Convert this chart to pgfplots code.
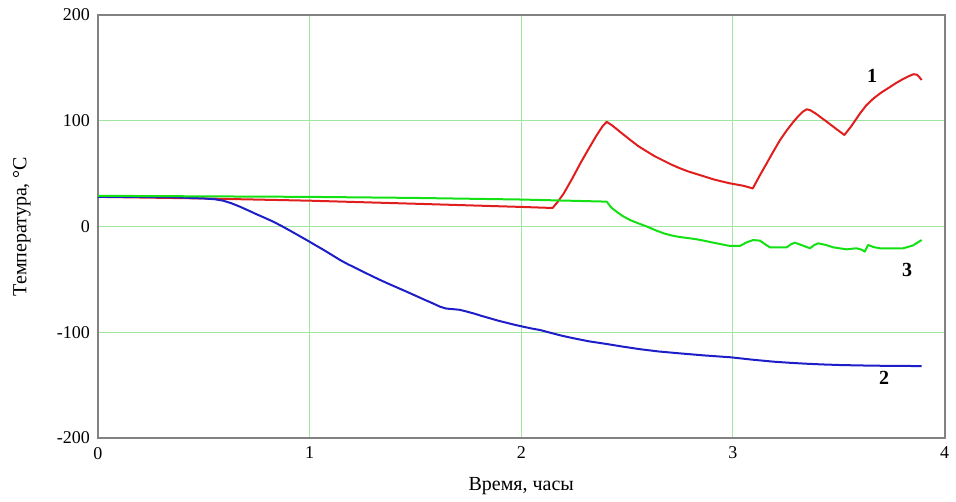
\documentclass[border=0pt]{standalone}
\usepackage{fontspec}
\setmainfont{Liberation Serif}
\usepackage{pgfplots}
\pgfplotsset{compat=1.18}
\definecolor{gridgreen}{RGB}{160,230,160}
\definecolor{axgray}{RGB}{130,130,130}
\definecolor{cred}{RGB}{225,30,30}
\definecolor{cgreen}{RGB}{20,225,20}
\definecolor{cblue}{RGB}{30,30,200}
\begin{document}
\begin{tikzpicture}
\begin{axis}[
  scale only axis,
  width=423.25pt, height=211.5pt,
  xmin=0, xmax=4, ymin=-200, ymax=200,
  xtick={0,1,2,3,4}, ytick={-200,-100,0,100,200},
  grid=major,
  major grid style={gridgreen, line width=0.6pt},
  axis line style={axgray, line width=1pt},
  major tick length=0pt,
  tick label style={font=\fontsize{9}{10}\selectfont},
  /pgf/number format/assume math mode=true,
  xticklabel style={yshift=-1pt},
  yticklabel style={xshift=-0.5pt},
  clip=false,
  every axis plot/.append style={line width=1pt, line join=round},
]
\path (rel axis cs:0,0) ++(-49pt,-30.5pt) rectangle ++(478pt,249.5pt);
\node[rotate=90, font=\fontsize{10}{12}\selectfont] at ([xshift=-38pt]rel axis cs:0,0.5) {Температура, °C};
\node[font=\fontsize{10}{12}\selectfont] at ([yshift=-24pt]rel axis cs:0.5,0) {Время, часы};
\addplot[cred] coordinates {
(0,28) (0.5,26.5) (1.0,24.4) (1.5,21.5) (2.0,18.5) (2.148,17.5)
(2.175,24) (2.2,31) (2.24,45) (2.28,60) (2.32,74) (2.357,86.5) (2.385,95) (2.404,99)
(2.43,95.5) (2.47,89) (2.514,82)
(2.553,76) (2.593,71) (2.63,66.5) (2.67,62.5) (2.71,58.5) (2.75,55) (2.79,52) (2.83,49.5) (2.87,47) (2.908,44.6) (2.95,42.5) (2.986,40.8)
(3.05,38.5) (3.094,36) (3.125,47.5) (3.16,59.8) (3.19,70.5) (3.223,81.8) (3.255,91) (3.286,99) (3.31,104.5) (3.33,108.5)
(3.349,110.8) (3.365,110) (3.39,107) (3.444,99) (3.49,92) (3.527,86.5) (3.56,95)
(3.601,107) (3.63,114.5) (3.664,121) (3.7,126.5) (3.743,132) (3.77,135.5) (3.80,139) (3.83,142) (3.853,144) (3.87,143.5) (3.88,141.5)
(3.892,138.5)
};
\addplot[cblue] coordinates {
(0,28) (0.2,28) (0.36,27.6) (0.5,26.5) (0.55,25.8) (0.592,24.4) (0.63,22) (0.671,18.7)
(0.71,15.2) (0.75,11.5) (0.79,8) (0.829,4.5) (0.87,0.2) (0.908,-4) (0.946,-8.3) (0.986,-12.8) (1.025,-17.4) (1.065,-22) (1.105,-26.9) (1.144,-31.7)
(1.18,-35.6) (1.22,-39.5) (1.26,-43.5) (1.301,-47.5) (1.34,-51.2) (1.38,-54.8) (1.42,-58.3) (1.459,-61.7) (1.5,-65.4) (1.54,-69) (1.58,-72.5)
(1.616,-75.8) (1.645,-77.6) (1.68,-78.2) (1.71,-78.8) (1.745,-80.6) (1.78,-82.5) (1.815,-84.7) (1.852,-86.8)
(1.89,-89) (1.93,-91) (1.97,-93) (2.01,-94.8) (2.05,-96.5) (2.089,-97.9) (2.136,-100.4) (2.19,-103.2) (2.247,-105.7)
(2.32,-108.6) (2.4,-111) (2.48,-113.6) (2.56,-116) (2.65,-118.2) (2.75,-120) (2.87,-122) (2.99,-123.7) (3.09,-125.9) (3.19,-127.8)
(3.27,-128.9) (3.35,-129.8) (3.43,-130.5) (3.506,-131) (3.6,-131.4) (3.7,-131.7) (3.892,-132)
};
\addplot[cgreen] coordinates {
(0,29) (0.5,28.5) (1.0,28) (1.5,27) (2.0,25.5) (2.404,23.5) (2.425,18) (2.45,14)
(2.48,9.8) (2.514,6.1) (2.553,3) (2.593,0) (2.63,-3.2) (2.672,-6.4) (2.71,-8.5) (2.75,-10) (2.79,-11) (2.829,-12.1) (2.865,-13.5) (2.9,-15) (2.945,-16.8)
(2.986,-18.4) (3.033,-18.4) (3.065,-15) (3.096,-12.8) (3.128,-13.4) (3.15,-16.5) (3.175,-19.7)
(3.22,-19.7) (3.254,-19.7) (3.275,-16.8) (3.293,-15.3) (3.33,-18) (3.364,-20.6)
(3.385,-17.5) (3.403,-15.9) (3.44,-17.5) (3.474,-19.7) (3.537,-21.6) (3.584,-20.6)
(3.61,-22) (3.623,-23.8) (3.639,-17.5) (3.665,-19.5) (3.695,-20.6) (3.805,-20.6) (3.85,-18)
(3.892,-12.8)
};
\node[font=\fontsize{10}{12}\selectfont\bfseries] at (axis cs:3.658,142) {1};
\node[font=\fontsize{10}{12}\selectfont\bfseries] at (axis cs:3.823,-41) {3};
\node[font=\fontsize{10}{12}\selectfont\bfseries] at (axis cs:3.715,-143) {2};
\end{axis}
\end{tikzpicture}
\end{document}
